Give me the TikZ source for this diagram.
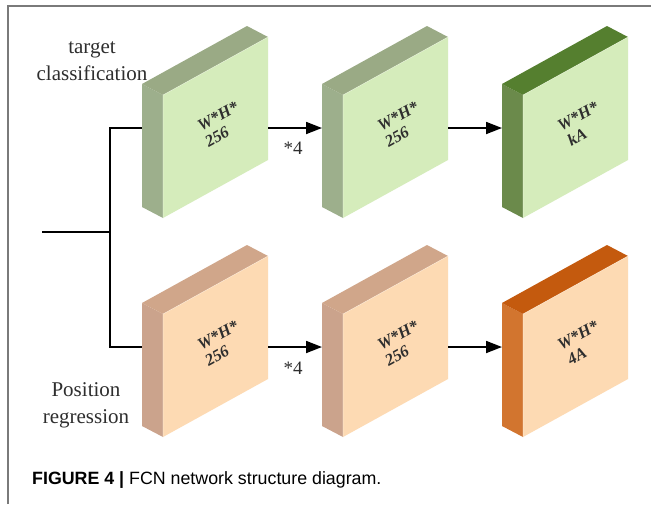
\documentclass[tikz,border=0pt]{standalone}
\usepackage{fontspec}
\setmainfont{Liberation Serif}
\newfontfamily\capfont{Liberation Sans}
\usetikzlibrary{arrows.meta}

\definecolor{gfront}{HTML}{D5ECBB}
\definecolor{gside}{HTML}{9DAF8C}
\definecolor{gtop}{HTML}{9AAA85}
\definecolor{dgside}{HTML}{6B8A4B}
\definecolor{dgtop}{HTML}{557F2F}
\definecolor{ofront}{HTML}{FDDAB3}
\definecolor{oside}{HTML}{CBA38C}
\definecolor{otop}{HTML}{D0A68A}
\definecolor{doside}{HTML}{D2752F}
\definecolor{dotop}{HTML}{C45A0E}
\definecolor{inkgray}{HTML}{2E2E2E}
\definecolor{framegray}{HTML}{7A7A7A}

% one feature-map slab: #1 name, #2/#3 front bottom-left corner,
% #4 front, #5 side, #6 top colour, #7/#8 the two label lines
\newcommand\slab[8]{%
  \begin{scope}[shift={(#2,#3)}]
    \fill[#5] (0,0) -- (-21,-11) -- (-21,-134) -- (0,-123) -- cycle;
    \fill[#6] (0,-123) -- (-21,-134) -- (84,-192) -- (105,-181) -- cycle;
    \fill[#4] (0,0) -- (105,-58) -- (105,-181) -- (0,-123) -- cycle;
    \draw[white,opacity=0.35,line width=0.6pt] (0,0) -- (0,-123) -- (105,-181);
    \node[slabtext] (#1) at (55,-102) {#7};
    \node[slabtext] (#1-b) at (54,-81) {#8};
    \coordinate (#1-in) at (-21,-90);
    \coordinate (#1-out) at (105,-90);
  \end{scope}}

\tikzset{
  slabtext/.style={rotate=29, text=inkgray,
    font=\fontsize{16.5}{20}\selectfont\bfseries\itshape, inner sep=0pt},
  branch/.style={align=center, text=inkgray, font=\fontsize{21}{27}\selectfont},
  mult/.style={text=inkgray, font=\fontsize{19}{19}\selectfont, inner sep=0pt},
  wire/.style={line width=1.8pt, black},
  flow/.style={wire, -{Triangle[length=16pt,width=12pt]}},
}

\begin{document}
\begin{tikzpicture}[x=1pt,y=-1pt]
  \useasboundingbox (0,0) rectangle (651,504);
  \fill[white] (0,0) rectangle (651,504);
  % frame
  \draw[framegray, line width=1.4pt] (8,504) -- (8,6) -- (651,6);

  % classification branch
  \slab{t1}{163}{218}{gfront}{gside}{gtop}{W*H*}{256}
  \slab{t2}{343}{218}{gfront}{gside}{gtop}{W*H*}{256}
  \slab{t3}{523}{218}{gfront}{dgside}{dgtop}{W*H*}{kA}
  % regression branch
  \slab{b1}{163}{437}{ofront}{oside}{otop}{W*H*}{256}
  \slab{b2}{343}{437}{ofront}{oside}{otop}{W*H*}{256}
  \slab{b3}{523}{437}{ofront}{doside}{dotop}{W*H*}{4A}

  % input and split
  \coordinate (src) at (42,232);
  \coordinate (split) at (110,232);
  \draw[wire] (src) -- (split);
  \draw[wire] (t1-in) -- (t1-in -| split) -- (b1-in -| split) -- (b1-in);

  % forward connections
  \draw[flow] (t1-out) -- (t2-in);
  \draw[flow] (t2-out) -- (t3-in);
  \draw[flow] (b1-out) -- (b2-in);
  \draw[flow] (b2-out) -- (b3-in);

  \node[mult] (m1) at (293,148) {*4};
  \node[mult] (m2) at (293,368) {*4};

  \node[branch] (lt) at (92,61) {target\\classification};
  \node[branch] (lb) at (86,405) {Position\\regression};

  \node[anchor=west, inner sep=0pt, font=\capfont\fontsize{17.8}{20}\selectfont] (cap)
    at (32,480) {\textbf{FIGURE 4 |} FCN network structure diagram.};
\end{tikzpicture}
\end{document}
